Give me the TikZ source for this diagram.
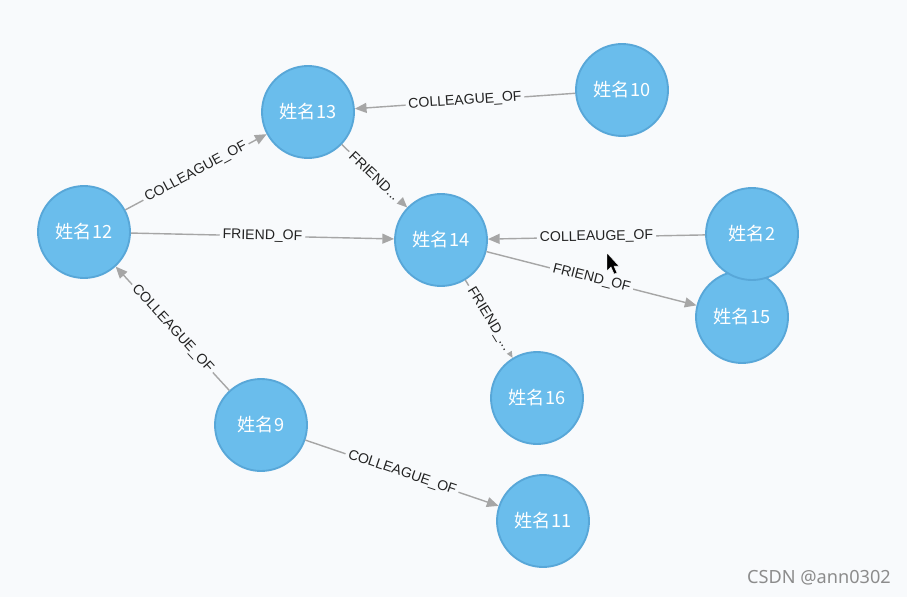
\documentclass[tikz,border=0pt]{standalone}
\usepackage{fontspec}
\setmainfont{Liberation Sans}
\newfontfamily\cjk{Noto Sans CJK SC}
\newfontfamily\marksans{Noto Sans}
\usetikzlibrary{arrows.meta}

\definecolor{bgcol}{HTML}{F8FAFC}
\definecolor{nodefill}{HTML}{6ABDEC}
\definecolor{nodeline}{HTML}{58A7D8}
\definecolor{edgecol}{HTML}{A6A6A6}
\definecolor{labcol}{HTML}{222222}

\tikzset{
  person/.style={circle, fill=nodefill, draw=nodeline, line width=1.6pt,
    minimum size=2.76cm, inner sep=0pt, text=white,
    font=\cjk\fontsize{15.5}{18}\selectfont},
  rel/.style={draw=edgecol, line width=1.2pt,
    -{Triangle[length=10pt,width=8.5pt]}},
  rellabel/.style={midway, sloped, fill=bgcol, inner sep=2.5pt, text=labcol,
    font=\fontsize{12}{14}\selectfont}
}

\begin{document}
\begin{tikzpicture}[x=0.03cm, y=-0.03cm]
    %background
    \fill[bgcol] (0,0) rectangle (907,597);
    \useasboundingbox (0,0) rectangle (907,597);

    %nodes
    \node[person] (n13) at (308,112) {姓名13};
    \node[person] (n10) at (622,90) {姓名10};
    \node[person] (n12) at (84,232) {姓名12};
    \node[person] (n14) at (441,240) {姓名14};
    \node[person] (n15) at (742,317) {姓名15};
    \node[person] (n2) at (752,234) {姓名2};
    \node[person] (n16) at (537,398) {姓名16};
    \node[person] (n9) at (261,425) {姓名9};
    \node[person] (n11) at (543,521) {姓名11};

    %relations
    \draw[rel] (n10) -- (n13) node[rellabel] {COLLEAGUE\_OF};
    \draw[rel] (n12) -- (n13) node[rellabel] {COLLEAGUE\_OF};
    \draw[rel] (n13) -- (n14) node[rellabel] {FRIEND...};
    \draw[rel] (n12) -- (n14) node[rellabel] {FRIEND\_OF};
    \draw[rel] (n2) -- (n14) node[rellabel] {COLLEAUGE\_OF};
    \draw[rel] (n14) -- (n15) node[rellabel] {FRIEND\_OF};
    \draw[rel] (n14) -- (n16) node[rellabel] {FRIEND\_...};
    \draw[rel] (n9) -- (n12) node[rellabel] {COLLEAGUE\_OF};
    \draw[rel] (n9) -- (n11) node[rellabel] {COLLEAGUE\_OF};

    %cursor
    \fill[black, draw=white, line width=0.4pt] (607,253) -- (607,271) -- (611,267)
      -- (614,274) -- (617,273) -- (614,266) -- (619,266) -- cycle;

    %watermark
    \node[anchor=east, text=black!45, font=\marksans\fontsize{15.5}{18}\selectfont]
      (mark) at (895,578) {CSDN @ann0302};
\end{tikzpicture}
\end{document}
